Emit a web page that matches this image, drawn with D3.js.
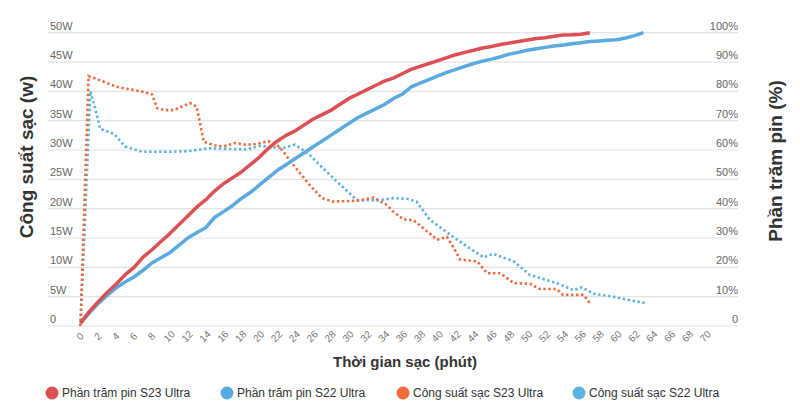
<!DOCTYPE html>
<html><head><meta charset="utf-8">
<script src="https://cdn.jsdelivr.net/npm/d3@7"></script>
<style>body{margin:0;background:#fff}svg{display:block}</style>
</head><body>
<svg id="c" width="800" height="412"></svg>
<script>
// ---- data ----
const xTicks = [0,2,4,6,8,10,12,14,16,18,20,22,24,26,28,30,32,34,36,38,40,42,44,46,48,50,52,54,56,58,60,62,64,66,68,70];
const wTicks = [0,5,10,15,20,25,30,35,40,45,50];
const wTickLabels = ["0","5W","10W","15W","20W","25W","30W","35W","40W","45W","50W"];
const pTicks = [0,10,20,30,40,50,60,70,80,90,100];
const pTickLabels = ["0","10%","20%","30%","40%","50%","60%","70%","80%","90%","100%"];

const s23PctTime = [0,1,2,3,4,5,6,7,8,9,10,11,12,13,14,15,16,17,18,19,20,21,22,23,24,25,26,27,28,29,30,31,32,33,34,35,36,37,38,39,40,41,42,43,44,45,46,47,48,49,50,51,52,53,54,55,56,57];
const s23Pct = [1,5,8.3,11.5,14.3,17.5,20,23.5,26,28.8,31.5,34.5,37.5,40.5,43,46,48.5,50.5,52.5,55,57.5,60.5,63,65,66.5,68.5,70.5,72,73.5,75.5,77.5,79,80.5,82,83.5,84.5,86,87.5,88.5,89.5,90.5,91.5,92.5,93.3,94,94.8,95.3,96,96.5,97,97.5,98,98.3,98.8,99.2,99.3,99.5,100];

const s22PctTime = [0,1,2,3,4,5,6,7,8,9,10,11,12,13,14,15,16,17,18,19,20,21,22,23,24,25,26,27,28,29,30,31,32,33,34,35,36,37,38,39,40,41,42,43,44,45,46,47,48,49,50,51,52,53,54,55,56,57,58,59,60,61,62,63];
const s22Pct = [1,4.5,7.7,10.5,13,15,16.8,19,21.5,23.3,25,27.5,30,31.8,33.5,37,39,41,43.5,45.5,48,50.5,53,55,57,59,61,63,65,67,69,71,72.5,74,75.5,77.5,79,81.5,82.8,84,85.3,86.5,87.5,88.5,89.5,90.3,91,91.8,92.7,93.3,94,94.5,95,95.5,95.8,96.2,96.6,97,97.2,97.4,97.6,98.2,99,100];

const s23PowTime = [0,0.9,2,4,6,7.1,8,8.6,9.5,10.4,11.5,12.3,13,13.8,15,16,17.3,18.5,19.6,21,21.8,22.4,23.7,25.5,27,28.3,30,31.3,32.8,34.3,35,36.1,37.3,38.5,39.9,41,41.5,42.5,44.4,45.5,47,48.5,50.3,51.4,53.3,54,56.3,57];
const s23Pow = [0,42.6,42,40.8,40.2,39.9,39.5,37.1,36.8,36.8,37.5,38,37.4,31.4,30.8,30.6,31.2,30.9,31,31.5,31.1,30.3,27.7,24.3,21.8,21.2,21.3,21.4,21.9,20.6,19.5,18.2,18,16.5,14.7,15.2,14,11.3,11,9,9,7.3,7.2,6.3,6.3,5.3,5.3,3.9];

const s22PowTime = [0,1.1,1.7,2.2,3.7,5,6.9,10,12.1,14.3,16,18.5,20.1,21,22.6,24,25.5,26.8,28.5,30.9,33.2,35,36.5,37.6,39.1,41.7,43.5,45.1,46.2,48.5,50.3,53.3,55.2,56.1,57.4,59.6,61.5,63.2];
const s22Pow = [0,40,36.8,33.6,32.8,30.6,29.7,29.7,29.8,30.3,30.2,30.1,30.7,30.6,30.3,30.9,29.4,27.4,24.9,21.5,21.4,21.8,21.7,21.2,18.1,15.2,13.3,11.7,12.3,11,8.7,7.3,6.1,6.6,5.5,5,4.4,3.9];

const legendNames = ["Phần trăm pin S23 Ultra","Phần trăm pin S22 Ultra","Công suất sạc S23 Ultra","Công suất sạc S22 Ultra"];
const colors = ["#dc5055","#5aaae0","#f06a3c","#5cb4de"];

// ---- chart ----
const svg = d3.select("#c");
const font = "'Liberation Sans', Arial, sans-serif";
const x = d3.scaleLinear().domain([0,70]).range([80.5,706]);
const yW = d3.scaleLinear().domain([0,50]).range([326,32.7]);
const yP = d3.scaleLinear().domain([0,100]).range([326,32.7]);
const gridL = 48, gridR = 738;

// gridlines
svg.append("g").selectAll("line").data(wTicks).join("line")
  .attr("x1",gridL).attr("x2",gridR)
  .attr("y1",d=>yW(d)).attr("y2",d=>yW(d))
  .attr("stroke","#e3e3e3").attr("stroke-width",1.2);

// left labels
svg.append("g").selectAll("text").data(wTicks).join("text")
  .attr("x",50).attr("y",d=>yW(d)-3)
  .attr("font-family",font).attr("font-size",11).attr("fill","#666")
  .text((d,i)=>wTickLabels[i]);

// right labels
svg.append("g").selectAll("text").data(pTicks).join("text")
  .attr("x",738).attr("y",d=>yP(d)-3).attr("text-anchor","end")
  .attr("font-family",font).attr("font-size",11).attr("fill","#666")
  .text((d,i)=>pTickLabels[i]);

// x tick labels
svg.append("g").selectAll("text").data(xTicks).join("text")
  .attr("transform",d=>`translate(${x(d)},${337}) rotate(-45)`)
  .attr("text-anchor","middle").attr("dominant-baseline","middle")
  .attr("font-family",font).attr("font-size",10).attr("fill","#777")
  .text(d=>d);

// axis titles
svg.append("text").attr("x",405).attr("y",367).attr("text-anchor","middle")
  .attr("font-family",font).attr("font-size",15).attr("font-weight","bold").attr("fill","#333")
  .text("Thời gian sạc (phút)");
svg.append("text").attr("transform","translate(33,157) rotate(-90)").attr("text-anchor","middle")
  .attr("font-family",font).attr("font-size",19).attr("font-weight","bold").attr("fill","#333")
  .text("Công suất sạc (w)");
svg.append("text").attr("transform","translate(782,161) rotate(-90)").attr("text-anchor","middle")
  .attr("font-family",font).attr("font-size",19).attr("font-weight","bold").attr("fill","#333")
  .text("Phần trăm pin (%)");

// lines
const mk = (t,v)=>t.map((d,i)=>[d,v[i]]);
const lineP = d3.line().x(d=>x(d[0])).y(d=>yP(d[1]));
const lineW = d3.line().x(d=>x(d[0])).y(d=>yW(d[1]));

svg.append("path").datum(mk(s22PowTime,s22Pow)).attr("d",lineW)
  .attr("fill","none").attr("stroke",colors[3]).attr("stroke-width",2.6).attr("stroke-dasharray","2.4,2.6");
svg.append("path").datum(mk(s23PowTime,s23Pow)).attr("d",lineW)
  .attr("fill","none").attr("stroke",colors[2]).attr("stroke-width",2.6).attr("stroke-dasharray","2.4,2.6");
svg.append("path").datum(mk(s22PctTime,s22Pct)).attr("d",lineP)
  .attr("fill","none").attr("stroke",colors[1]).attr("stroke-width",3.5).attr("stroke-linejoin","round");
svg.append("path").datum(mk(s23PctTime,s23Pct)).attr("d",lineP)
  .attr("fill","none").attr("stroke",colors[0]).attr("stroke-width",3.5).attr("stroke-linejoin","round");

// legend
const legX = [52,227,403,579];
const lg = svg.append("g").selectAll("g").data(legendNames).join("g")
  .attr("transform",(d,i)=>`translate(${legX[i]},393)`);
lg.append("circle").attr("r",6.5).attr("fill",(d,i)=>colors[i]);
lg.append("text").attr("x",10).attr("y",4.3)
  .attr("font-family",font).attr("font-size",12).attr("fill","#333")
  .text(d=>d);
</script>
</body></html>
